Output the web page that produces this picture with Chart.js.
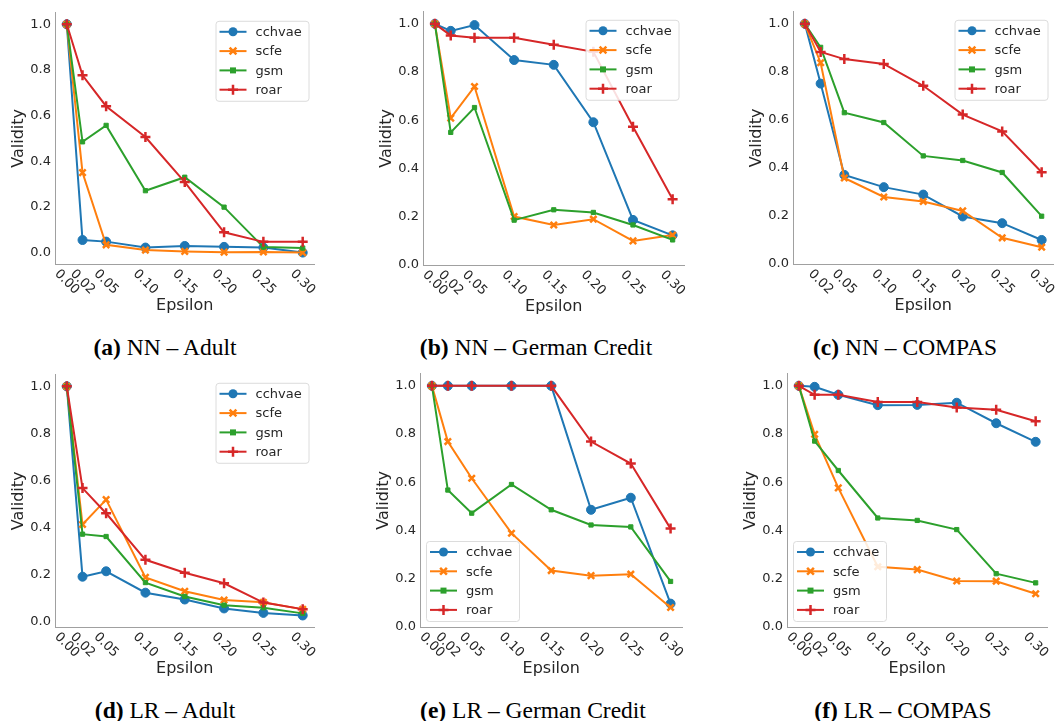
<!DOCTYPE html>
<html>
<head>
<meta charset="utf-8">
<script src="https://cdn.jsdelivr.net/npm/chart.js@4.4.1/dist/chart.umd.min.js"></script>
<style>
  html, body { margin: 0; padding: 0; background: #fff; }
  #page { position: relative; width: 1061px; height: 721px; overflow: hidden; }
  canvas { position: absolute; }
  .caption {
    position: absolute; transform: translateX(-50%); white-space: nowrap;
    font-family: "Liberation Serif", "Times New Roman", serif; font-size: 23.5px;
    height: 28px; line-height: 28px; color: #000;
  }
  .caption b { font-weight: bold; }
</style>
</head>
<body>
<div id="page"></div>
<script>
// x values and tick labels
const epsilon = [0, 0.02, 0.05, 0.10, 0.15, 0.20, 0.25, 0.30];
const xTickLabels = ['0.00', '0.02', '0.05', '0.10', '0.15', '0.20', '0.25', '0.30'];
const xTickLabelsNoZero = ['0.02', '0.05', '0.10', '0.15', '0.20', '0.25', '0.30'];
const yTickValues = [0.0, 0.2, 0.4, 0.6, 0.8, 1.0];
const methods = ['cchvae', 'scfe', 'gsm', 'roar'];

// (a) NN - Adult
const nnAdultCchvae = [1.0, 0.055, 0.048, 0.022, 0.029, 0.025, 0.022, 0.0];
const nnAdultScfe   = [1.0, 0.35, 0.034, 0.011, 0.005, 0.002, 0.003, 0.0];
const nnAdultGsm    = [1.0, 0.485, 0.557, 0.271, 0.330, 0.199, 0.024, 0.02];
const nnAdultRoar   = [1.0, 0.776, 0.641, 0.506, 0.309, 0.089, 0.047, 0.047];

// (b) NN - German Credit
const nnGermanCchvae = [1.0, 0.971, 0.995, 0.850, 0.830, 0.592, 0.187, 0.123];
const nnGermanScfe   = [1.0, 0.609, 0.740, 0.201, 0.166, 0.190, 0.100, 0.124];
const nnGermanGsm    = [1.0, 0.550, 0.653, 0.186, 0.229, 0.218, 0.166, 0.104];
const nnGermanRoar   = [1.0, 0.952, 0.942, 0.942, 0.913, 0.884, 0.573, 0.273];

// (c) NN - COMPAS
const nnCompasCchvae = [1.0, 0.751, 0.371, 0.320, 0.289, 0.198, 0.170, 0.100];
const nnCompasScfe   = [1.0, 0.838, 0.358, 0.279, 0.260, 0.221, 0.109, 0.070];
const nnCompasGsm    = [1.0, 0.902, 0.630, 0.589, 0.450, 0.431, 0.381, 0.199];
const nnCompasRoar   = [1.0, 0.883, 0.853, 0.833, 0.742, 0.622, 0.552, 0.382];

// (d) LR - Adult
const lrAdultCchvae = [1.0, 0.190, 0.213, 0.122, 0.093, 0.055, 0.036, 0.025];
const lrAdultScfe   = [1.0, 0.412, 0.518, 0.187, 0.128, 0.091, 0.081, 0.051];
const lrAdultGsm    = [1.0, 0.371, 0.361, 0.165, 0.106, 0.069, 0.058, 0.034];
const lrAdultRoar   = [1.0, 0.567, 0.460, 0.262, 0.207, 0.162, 0.080, 0.052];

// (e) LR - German Credit
const lrGermanCchvae = [1.0, 1.0, 1.0, 1.0, 1.0, 0.486, 0.536, 0.097];
const lrGermanScfe   = [1.0, 0.769, 0.617, 0.389, 0.234, 0.213, 0.219, 0.081];
const lrGermanGsm    = [1.0, 0.568, 0.472, 0.591, 0.486, 0.423, 0.415, 0.189];
const lrGermanRoar   = [1.0, 1.0, 1.0, 1.0, 1.0, 0.769, 0.678, 0.408];

// (f) LR - COMPAS
const lrCompasCchvae = [1.0, 0.996, 0.963, 0.920, 0.921, 0.930, 0.845, 0.768];
const lrCompasScfe   = [1.0, 0.799, 0.577, 0.250, 0.238, 0.191, 0.190, 0.138];
const lrCompasGsm    = [1.0, 0.771, 0.649, 0.452, 0.442, 0.404, 0.221, 0.183];
const lrCompasRoar   = [1.0, 0.963, 0.963, 0.933, 0.933, 0.910, 0.901, 0.853];

const colors = ['#1f77b4', '#ff7f0e', '#2ca02c', '#d62728'];
const pointStyles = ['circle', 'crossRot', 'rect', 'cross'];
const pointRadii = [4.5, 4.5, 3, 5];
const pointBorders = [1, 2.5, 1, 2.5];
const textColor = '#262626';
const spineColor = '#a0a0a0';

// panels: plot area in page pixels, y range, legend corner
const panels = [
  { id: 'a', tag: '(a)', title: 'NN – Adult', series: [nnAdultCchvae, nnAdultScfe, nnAdultGsm, nnAdultRoar],
    L: 55, R: 320, T: 5, B: 264, ymin: -0.05, ymax: 1.05, legend: 'ur', xLabels: xTickLabels, cx: 165, cy: 347 },
  { id: 'b', tag: '(b)', title: 'NN – German Credit', series: [nnGermanCchvae, nnGermanScfe, nnGermanGsm, nnGermanRoar],
    L: 423, R: 690, T: 4, B: 265, ymin: 0, ymax: 1.05, legend: 'ur', xLabels: xTickLabels, cx: 536, cy: 347 },
  { id: 'c', tag: '(c)', title: 'NN – COMPAS', series: [nnCompasCchvae, nnCompasScfe, nnCompasGsm, nnCompasRoar],
    L: 793, R: 1059, T: 4, B: 264, ymin: 0, ymax: 1.05, legend: 'ur', xLabels: xTickLabelsNoZero, cx: 905, cy: 347 },
  { id: 'd', tag: '(d)', title: 'LR – Adult', series: [lrAdultCchvae, lrAdultScfe, lrAdultGsm, lrAdultRoar],
    L: 55, R: 320, T: 367, B: 627, ymin: -0.024, ymax: 1.049, legend: 'ur', xLabels: xTickLabels, cx: 165, cy: 710 },
  { id: 'e', tag: '(e)', title: 'LR – German Credit', series: [lrGermanCchvae, lrGermanScfe, lrGermanGsm, lrGermanRoar],
    L: 420, R: 688, T: 366, B: 627, ymin: 0, ymax: 1.05, legend: 'll', xLabels: xTickLabels, cx: 533, cy: 710 },
  { id: 'f', tag: '(f)', title: 'LR – COMPAS', series: [lrCompasCchvae, lrCompasScfe, lrCompasGsm, lrCompasRoar],
    L: 787, R: 1053, T: 366, B: 627, ymin: 0, ymax: 1.05, legend: 'll', xLabels: xTickLabels, cx: 903, cy: 710 }
];

const Y_AXIS_W = 54;
const X_AXIS_H = 52;
const PAD_TOP = 4;
const PAD_RIGHT = 2;

/**
 * Draw a marker like the seaborn ones
 */
function drawMarker(ctx, i, x, y) {
  const r = pointRadii[i];
  ctx.save();
  ctx.fillStyle = colors[i];
  ctx.strokeStyle = colors[i];
  ctx.lineWidth = pointBorders[i];
  ctx.beginPath();
  if (pointStyles[i] === 'circle') {
    ctx.arc(x, y, r, 0, Math.PI * 2);
    ctx.fill();
  } else if (pointStyles[i] === 'rect') {
    ctx.rect(x - r, y - r, 2 * r, 2 * r);
    ctx.fill();
  } else if (pointStyles[i] === 'crossRot') {
    const d = r * 0.75;
    ctx.moveTo(x - d, y - d); ctx.lineTo(x + d, y + d);
    ctx.moveTo(x + d, y - d); ctx.lineTo(x - d, y + d);
    ctx.stroke();
  } else {
    ctx.moveTo(x - r, y); ctx.lineTo(x + r, y);
    ctx.moveTo(x, y - r); ctx.lineTo(x, y + r);
    ctx.stroke();
  }
  ctx.restore();
}

// rotated x tick labels (clockwise, centred on the tick)
const rotatedTicks = {
  id: 'rotatedTicks',
  afterDraw(chart, args, opts) {
    const { ctx } = chart;
    const xs = chart.scales.x;
    ctx.save();
    ctx.font = '13px "DejaVu Sans"';
    ctx.fillStyle = textColor;
    ctx.textAlign = 'center';
    ctx.textBaseline = 'middle';
    opts.labels.forEach(lab => {
      const px = xs.getPixelForValue(parseFloat(lab));
      ctx.save();
      ctx.translate(px, chart.chartArea.bottom + 18);
      ctx.rotate(Math.PI / 4);
      ctx.fillText(lab, 0, 0);
      ctx.restore();
    });
    ctx.restore();
  }
};

// framed legend with line + marker samples
const boxLegend = {
  id: 'boxLegend',
  afterDraw(chart, args, opts) {
    const { ctx, chartArea } = chart;
    const w = 93, h = 80, off = 6;
    const bx = opts.corner === 'ur' ? chartArea.right - off - w : chartArea.left + off;
    const by = opts.corner === 'ur' ? chartArea.top + off + 2 : chartArea.bottom - off - h;
    ctx.save();
    ctx.globalAlpha = 0.85;
    ctx.fillStyle = '#ffffff';
    ctx.strokeStyle = '#d6d6d6';
    ctx.lineWidth = 1;
    ctx.beginPath();
    ctx.roundRect(bx + 0.5, by + 0.5, w, h, 3);
    ctx.fill();
    ctx.stroke();
    ctx.globalAlpha = 1;
    ctx.font = '13px "DejaVu Sans"';
    ctx.textBaseline = 'middle';
    ctx.textAlign = 'left';
    methods.forEach((m, i) => {
      const ry = by + 11 + i * 19.3;
      ctx.strokeStyle = colors[i];
      ctx.lineWidth = 2;
      ctx.beginPath();
      ctx.moveTo(bx + 4, ry);
      ctx.lineTo(bx + 31, ry);
      ctx.stroke();
      drawMarker(ctx, i, bx + 17.5, ry);
      ctx.fillStyle = textColor;
      ctx.fillText(m, bx + 40, ry + 1);
    });
    ctx.restore();
  }
};

const page = document.getElementById('page');

panels.forEach(p => {
  const canvas = document.createElement('canvas');
  const cw = (p.R - p.L) + Y_AXIS_W + PAD_RIGHT;
  const ch = PAD_TOP + (p.B - p.T) + X_AXIS_H;
  canvas.width = cw;
  canvas.height = ch;
  canvas.style.left = (p.L - Y_AXIS_W) + 'px';
  canvas.style.top = (p.T - PAD_TOP) + 'px';
  canvas.style.width = cw + 'px';
  canvas.style.height = ch + 'px';
  page.appendChild(canvas);

  const cap = document.createElement('div');
  cap.className = 'caption';
  cap.style.left = p.cx + 'px';
  cap.style.top = (p.cy - 14) + 'px';
  cap.innerHTML = '<b>' + p.tag + '</b> ' + p.title;
  page.appendChild(cap);

  new Chart(canvas, {
    type: 'line',
    data: {
      datasets: methods.map((m, i) => ({
        label: m,
        data: epsilon.map((e, k) => ({ x: e, y: p.series[i][k] })),
        borderColor: colors[i],
        backgroundColor: colors[i],
        borderWidth: 2,
        tension: 0,
        pointStyle: pointStyles[i],
        pointRadius: pointRadii[i],
        pointBorderWidth: pointBorders[i],
        pointBackgroundColor: colors[i],
        pointBorderColor: colors[i],
        order: methods.length - i
      }))
    },
    options: {
      responsive: false,
      animation: false,
      devicePixelRatio: 1,
      layout: { padding: { left: 0, top: PAD_TOP, right: PAD_RIGHT, bottom: 0 } },
      scales: {
        x: {
          type: 'linear',
          min: -0.015,
          max: 0.315,
          grid: { display: true, drawOnChartArea: false, drawTicks: false },
          border: { display: true, color: spineColor, width: 1 },
          ticks: { display: false },
          title: {
            display: true, text: 'Epsilon', color: textColor,
            font: { family: 'DejaVu Sans', size: 16 },
            padding: { top: 0, bottom: 1 }
          },
          afterFit: scale => { scale.height = X_AXIS_H; }
        },
        y: {
          min: p.ymin,
          max: p.ymax,
          grid: { display: true, drawOnChartArea: false, drawTicks: false },
          border: { display: true, color: spineColor, width: 1 },
          afterBuildTicks: scale => { scale.ticks = yTickValues.map(v => ({ value: v })); },
          ticks: {
            color: textColor,
            padding: 4,
            font: { family: 'DejaVu Sans', size: 13 },
            callback: v => v.toFixed(1)
          },
          title: {
            display: true, text: 'Validity', color: textColor,
            font: { family: 'DejaVu Sans', size: 16 },
            padding: { top: 8.4, bottom: 0 }
          },
          afterFit: scale => { scale.width = Y_AXIS_W; }
        }
      },
      plugins: {
        legend: { display: false },
        tooltip: { enabled: false },
        rotatedTicks: { labels: p.xLabels },
        boxLegend: { corner: p.legend }
      }
    },
    plugins: [rotatedTicks, boxLegend]
  });
});
</script>
</body>
</html>
